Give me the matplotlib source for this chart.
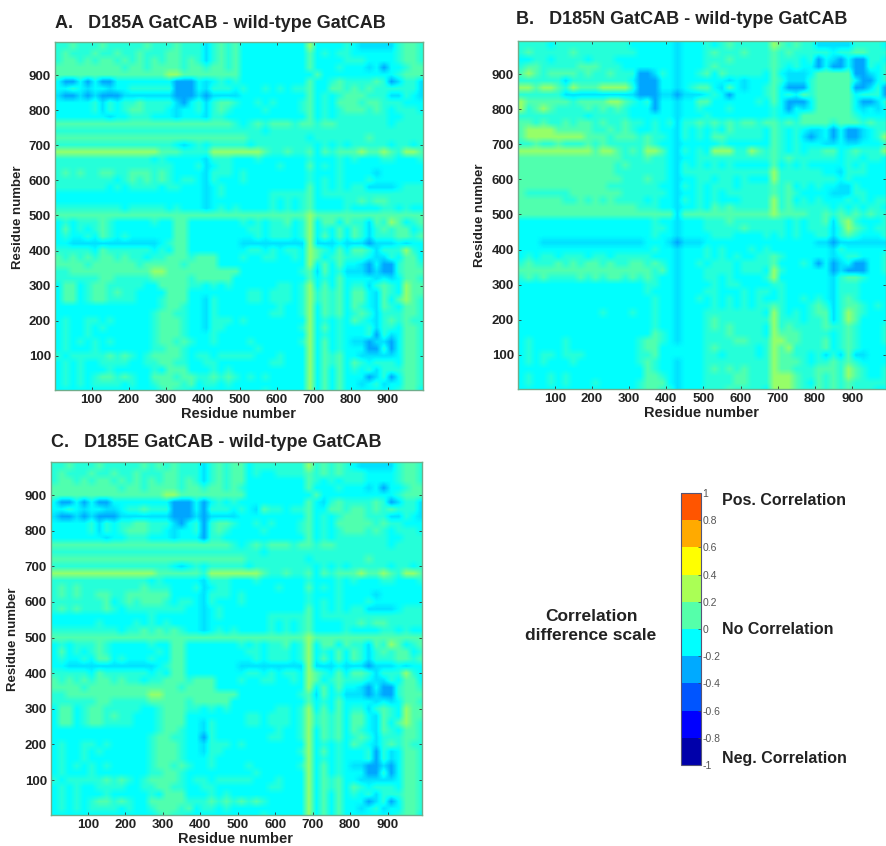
#!/usr/bin/env python3
"""Correlation difference maps for the three GatCAB mutants, read off by eye."""
import matplotlib

matplotlib.use("Agg")
import matplotlib.pyplot as plt
import numpy as np
from matplotlib.cm import ScalarMappable
from matplotlib.colors import BoundaryNorm, LinearSegmentedColormap, ListedColormap

W, H = 886, 846

# one letter per 20-residue bin, rows from residue 980 down to 0, columns from 10 up
LEVELS = {".": -0.1, ":": -0.01, "g": 0.09, "y": 0.25, "b": -0.17, "B": -0.31}

MAP_A = [
    "::g:::g::: ::g:::g::: b:g:g..... ....y....: .bbbbb:gg:",
    ":g:::g::g: :g:::gg::: b:g:g..... ....g.:.:: ......:gg:",
    ":gg:g:gg:g :g:g:gg:g: b:g:g..... ....g....: ::....:gg:",
    "ggggggggg: gg:gggg:gg :gg:g..... ....g...:. ..b.B..:gg",
    "gggggggggg gggggyyggg ggggg..... .....g.... ......:ggg",
    ".BB.B.BB.. ......BBB. b.:.:..... ....g..:g: :::g:Bb::b",
    "..:.b..b.. ::::::BBB. b:::.:..:. :.::g..gg: g:g::::::b",
    "bBBbBbBBBb bbbbbbBBBb Bbbbb..... ....g.:.:g gg:::bb:.b",
    ".....:b:.: :g::::bB.: b:gg:..:.: ...:g.:.gg g:gg:::...",
    ".....:b:.: gg:::.b..: b:g:....:. ...:g.:.:g gg:g:.:::.",
    ".......b.. :::...b... b::....... ....g.:.:: :::::..:::",
    "gggggggggg gggggggggg gggg:.:g:g gg:gg:gg:: :::::.::::",
    ":::::::::: :::::::::: ::::::::.: :::::::::: ::::::::::",
    "gggggggggg gggggggggg gggggg:::: ::::.::::: ::g:::::::",
    ":::::::::: ::::::.b.: .:::::.::: :::::.:.:. :::::.::.:",
    "yyyyyyyyyy yyyyggg::: :yyyyyyyg: :g::g.g:gg gyggyg:yyg",
    ":::::::::: :::.:..... b:::...:.. ....:...:. :...::...:",
    ":::::::::: ::::::...: b.::...... :...g.:.:. ..........",
    ":g:g::gg:: ggg:g:.... b:::.:.... ....:...:. ...b......",
    "::::::::.: g:g:g:.::. b:...:.... ....:.:.:. ..:.......",
    ":::::::.:. ::::.::... b.:....... ....g.:.:. ::bbbb.:::",
    ".......... .......... b.:......: ::::g.:::: ::::::::::",
    ".......... .......... b........: .:.:g....: :g:gg:::::",
    ":::::::::. :::::.:... b.:.:....: .:.:g....: ....::.:..",
    "gggggggggg gggggggggg gggggggggg ggggyggggg gggggggggg",
    ".:.:::g:.. ...:..gg.. .....:.:.: :g.:y.gg.g ::bg:yg.:g",
    ".g.:.:g:.. ......gg.. ......::.: ::.:y.:.g. g:b:g:gg.:",
    ".:..:.g:.: ......gg.. .......:.: ::.:y.g.g. g:b:::gg:g",
    "..bbbbbbbb bbbb.:gg.. .....bbbbb bbbbybbb.b bbBbbb.b..",
    ":::::.g::: :::.:.gg.. ......::.: .::.yg:.g. gg:b:::y:.",
    "g:g:g:gg:g ::.::ggg:g gg...:..:: ..:.yg.:g: ::.bb:.gg.",
    "gggg:ggggg g:ggggg:gg gg........ ....y.g.g. .bB.BB:gg:",
    "::gggggggg gggyyggggg ggggg..... ...:gbg.:b bbBbBB:ggg",
    "::::::gg:: :::ggggg:g gggg...... ....g.:.g. ...b.b.gg:",
    ".gg.:gg::: ::..gggg:: .:.:...... ::.:y.g.g. ::b:g:.ygg",
    ".gg.:gg:g: :....ggg.. ......::.: ::.:y:g:g. gg.bg:.ygg",
    ".gg.:gg::: :...:ggg.. b:....::.: ::.:y:g:g. gg.bg.gyg:",
    ".......... ....:gg:.. b:........ :..:y.g:g. g:.bg:.gg:",
    ".......... ...:gg::.. b:.......: :..:y.g:g. :g:b:::gg:",
    ".:..::.:.. ...:ggg:.. b:::.:.... ....y.:.:. g:.b:g:g::",
    ".:..:.:... ...:ggg:.. b::....... ...:y.g.:. ..:b::.gg:",
    ".:..:..... ...:ggg:.. .:........ ....y.:.:. ..:B:b.gg:",
    ".:.:.:.:.. ...:gg:g:. .:....:... ...:y.g.:. bbBbbB.gg:",
    ".:...:.... ...::gg:.. .......:.. ....y.g.:. ..BB:B.gg:",
    ":.:::::g:g :.:gggg:.: :.:::::... :...y.g:g. .bbbbb.gg:",
    ".:.:..:::: ..::gg::.. ::.......: :...y.g:g. g:.:::.gg:",
    ".:.:...:.. ...:.ggg.. .:.:...... ....y.g.g. :.:b:::gg:",
    ".:.:.:gg:g :..ggg:gg: :g:g:.:.:. ....y.g.g. ..Bb:B.gg:",
    ".:.:.::::. :..:ggg:g. ::.:...... ....y.g.g. .b.:b..gg:",
    ".......... ....:g::.. ........:. ....y.g.g. ......:gg.",
]

MAP_B = [
    "::::.::::: :::::..... .b...:.:g: ::::yg:g:: bbbbb::::.",
    ":g:::::g:: ::::::.... .b...:g::: g:::g:g::: ::.::gg:::",
    "..::.::::. :::....... .b...:::g: ::::g:::.: B.bB.BB::.",
    ":gg:::::gg g:::...... .b...:g::: ::::g:.:.. B.BB.BB:.:",
    "gyg:gggg:g ::g:::BBb: .b..:g.g:: :::.g.bbb. gggggBBb.:",
    "::::::b::: :::::.BBB. .b......b. b...g:bbb: ggggg.BB.:",
    "yygyyg:ygg gyyyy:BBB. .b.:gg.bg. b..:g.BBB: gggggBBb:B",
    "::::::bbbb bbbbbbBBBb bBbbb.:.B. ...:g.:.g: ggggg.:::B",
    "ygggggg:gg ggyyg:.:B. .b..gg.... ..:.g.BBB. ggggg.BBb:",
    "y:gyg::::g :g:g:...B. .b..:...:. ....:.B.b. ggggg.b.b.",
    ":::::::::. :::::..... .b...:.... ....:...gg ggggg:....",
    "gg:g::g:gg :g::g::.:. :b::g:g:g: gg:gg:g:gg gg:ggg:g::",
    "gyyyyggggg ::g:g:..:. .b:.:.:.g: :::.g:.:.b b.B.BBb.::",
    "gyyyyyyyyg gg:ggg:g:: .b:.:.gg:: :::.g:.:bB b.B.BBb.:y",
    "::g::g:::g :g:::::g:. .b.....:.. ....g:.:.. .bb.bb...:",
    "yyyyyyyyyy gyyg:g:yyg .b:.:.yyy: :yg:g:.:.: :gg.:g:::y",
    "gggggggggg gggg:::g:: .b..:::::: ::::g:g::: :::.::.::.",
    "gggggggggg ggg:g::::: .b:.:.:.:. ....g.:.:. ....:.:...",
    "gggggggggg ggg::::::: .b:::::::: ::::y::::: :..b:::...",
    "gggggggggg gggg:::g:: .b..::.::. :...y::::: :::.:.....",
    "gggggggggg gg:::::::. .b:.:.:::. ::::g:g.:. :..bb:....",
    "g::::::ggg gggg:::::: .b..:.:.:: ::::g:g:.. ..bbb::...",
    "gggggg::g: g:g::::.:. .b:.:.:... ::::y:g.:. :...:.:.::",
    "gggggggggg gggggg:::. .b..:.g:g: ::::y:g::: ::.:.:.::.",
    "gggggggggg gggggggggg gbgggggggg ggggygggg: :g:g:g:g::",
    ".......... ........:. .b...:::g: ::::::.:.: :gbgy:...:",
    ".......... ........:: .b...::::: g:::::.:.: ::b:yg:.::",
    ".......... ........:. .b....:::. ...:.:.:.. ::b:g:...:",
    "...bbbbbbb bbbbbbb... bBbbb..... .......... bbBbbbbbbb",
    ".......... ........:. .b...:.:.. .:.:...... ..b:......",
    ".:.::.:::. ::.:::::.. .b...:.:.: ..::g:.... ..b.::...:",
    ":g:::g:g:g g:g::gg:g: .b..:.:::. ::::g...:. B.Bb.BB..:",
    "gggggggggg gggggggg:g .b...::::. :::.y:.... ..BbBBB..:",
    ":g:g::::g: g:gg:g:g:. .b...::.:. ...:y..... ..b:gg:...",
    ".......... .......::. .b....:.:: ....::.... ..b:::....",
    ".......... .......:.. .b...::... :.::.:.... ..b:::....",
    ".......... ........:. .b..:.:.:. :.:..:..:. :.b:g:....",
    ".......... ........:. .b....:.:. :.::g:...: g:b:gg:.:.",
    ".......... .:...:..:. .b...::::: :::.y:.:.: ggb:yg:...",
    ".......... ........:. .b...:g::: ::::y:::.: :gb:yg....",
    ".......... ........:. .b...:g:g: :::.y:g::: :g::g:...:",
    ".......... ........g: .b...:::g: :::.yggg:: ::.:g:...:",
    ".:....:... ......:gg: .b...::::g g:::yygg:: :g.:g:...:",
    ".:....:... ......:gg. .....:g::: ::.:ygy::: :g.:g:....",
    ".:.::.:::. ......::g. .....::.:: ::.:ygg::. :b:bgbb...",
    ".:.:...:.. ......:g:. .b...::::: ::::yggg:. ::g:g:....",
    ".......... .......g:. .b...:g:g: g:::ygg::: ggg:yg:..:",
    ".:..:.:... .......gg: .b...::::g g:::yyyg:: g:g:yg:..:",
    ".:..:.:... :.....:ggg .b...::::g g:::yyyg:. g:g:g:::::",
    ".......... ......:gg: :b...:::g: :::.yyyg:: g:g:g:::..",
]

MAP_C = [
    "::g:::g::: ::g:g:g::: b:g:gg.::: ::::y:g:g: .bbbbb:gg:",
    ":g:::g::g: :g:::gg::: b:g:gg.:.. ::::g:g:g: ::....:gg:",
    ":gg:g:gg:g :g:g:gg:g: b:g:gg.... ....g:.:.: ::....:gg:",
    "ggggggggg: gg:gggg:gg :gg:g:.... ....g...:. ..b.B..:gg",
    "gggggggggg gggggyyggg gggggg.... .....g.... ......:ggg",
    ".BB.B.BB.. ......BBB. B.:.:..... ....g.b:g: :::g:Bb::b",
    "..:.b..bb. ::g:::BBB. B:::.:.bg: :.::g..gg: gg:g:g:::b",
    "bBBbBbBBBb bbbbbbBBBb Bbbbb..... ....g.:.:g gg:::bb:.b",
    ".....:b:.: :gg:::bB.: B:gg:..:.: ...:g.:.gg ggg:g::...",
    ".....:b:.: ggg::.b..: B:g:....:. ...:g.:.:g gg:g:.:::.",
    ".......b.. :::...b... B::....... ....g.:.:: :::::..:::",
    "gggggggggg gggggggggg gggg:.:g:g gg:gg:gg:: :::::.::::",
    ":::::::::: :::::::::: ::::::::.: :::::::::: ::::::::::",
    "gggggggggg gggggggggg gggggg:::: ::::.::::: ::g:::::::",
    ":::::::::: ::::::.b.: .:::::.::: :::::.:.:. :::::.::.:",
    "yyyyyyyyyy yyyygggggg :yyyyyyyg: :g::g.g:gg gyggyg:yyg",
    ":::::::::: :::.:..... b:::...:.. ....:...:. :...::...:",
    ":g:g:::::: ::g:::...: b.::...... :...g.:.:. ..........",
    ":g:g::gg:: gggggg.... b:::.:.... ....:...:. ...b......",
    ":::::::g.: g:ggg:.::. b:...:.... ....:.:.:. ..:.......",
    ":g:g:::g:. ::::::::.. b.:....... ....g.:.:. ::bbbb.:::",
    ".......... ...:...... b.:......: ::::g.:::: ::::::::::",
    "......:... .:.:.:.... b........: .:.:g....: :g:gg:::::",
    ":::::::::. ::g:g:g:.. b.:.:....: .:.:g....: ....::.:..",
    "gggggggggg gggggggggg gggggggggg ggggyggggg gggggggggg",
    ".:.:::g:.. ...:..gg.. .....:.:.: :g.:y.gg.g ::bg:yg.:g",
    ".g.:.:g:.. ....:.gg.. ......::.: ::.:y.:.g. g:b:g:gg.:",
    ".:..:.gg.: ...:..gg.. .......:.: ::.:y.g.g. g:b:::gg:g",
    "..bbbbbbbb bbbb.:gg.. .....bbbbb bbbbybbb.b bbBbbb.b..",
    ":::::.g::: :::.:.gg.. ......::.: .::.yg:.g. gg:b:::y:.",
    "g:g:g:gg:g ::.::ggg:g gg...:..:: ..:.yg.:g: ::.bb:.gg.",
    "gggg:ggggg ggggggg:gg gg........ ....y.g.g. .bB.BB:gg:",
    "::gggggggg gggyyggggg ggggg..... ...:gbg.:b bbBbBB:ggg",
    "::::::gg:: :::ggggg:g gggg...... ....g.:.g. ...b.b.gg:",
    ".gg.:gg::: ::..:ggg:: .:.:...... ::.:y.g.g. ::b:g:.ygg",
    ".gg.:gg:g: :...:ggg.. ......::.: ::.:y:g:g. gg.bg:.ygg",
    ".gg.:gg::: :...:ggg.. b:....::.: ::.:y:g:g. gg.bg.gyg:",
    ".......... ....:gg:.. b:........ :..:y.g:g. g:.bg:.gg:",
    ".......... ...:gg::.. B:.......: :..:y.g:g. :g:b:::gg:",
    ".:..::.:.. ...:ggg:.. b:::.:.... ....y.:.:. g:.b:g:g::",
    ".:..:.:... ...:ggg:.. b::....... ...:y.g.:. ..:B:b.gg:",
    ".:..:..... ...:ggg:.. .:........ ....y.:.:. ..:B:b.gg:",
    ".:.:.:.:.. ...:gg:g:. .:....:... ...:y.g.:. bbBBbB.gg:",
    ".:...:.... ...::gg:.. .......:.. ....y.g.:. ..BB:B.gg:",
    ":.:::::g:g :.:gggg:.: :.:::::... :...y.g:g. .bbbbb.gg:",
    ".:.:..:::: ..::gg::.. ::.......: :...y.g:g. g:.:::.gg:",
    ".:.:...:.. ...:.ggg.. .:.:...... ....y.g.g. :.:b:::gg:",
    ".:.:.:gg:g :..ggggg:: :g:g:g:g:. ....y.g.g. ..Bb:B.gg:",
    ".:.:.::::. :..:ggg:g. ::.:...... ....y.g.g. .b.:b..gg:",
    ".......... ....:g::.. ........:. ....y.g.g. ......:gg.",
]

TICKS = [100, 200, 300, 400, 500, 600, 700, 800, 900]
SCALE_TICKS = [-1, -0.8, -0.6, -0.4, -0.2, 0, 0.2, 0.4, 0.6, 0.8, 1]
SCALE_LABELS = ["-1", "-0.8", "-0.6", "-0.4", "-0.2", "0", "0.2", "0.4", "0.6", "0.8", "1"]
SCALE_COLORS = [
    "#0000aa", "#0000ff", "#0055ff", "#00aaff", "#00ffff",
    "#55ffaa", "#aaff55", "#ffff00", "#ffaa00", "#ff5500",
]

INK = "#222222"
FONT = "Liberation Sans"


def decode(rows):
    cells = [r.replace(" ", "").ljust(50, ".")[:50] for r in rows]
    return np.array([[LEVELS[c] for c in r] for r in cells])


def box(x0, y0, x1, y1):
    return [x0 / W, 1 - y1 / H, (x1 - x0) / W, (y1 - y0) / H]


def label(fig, x, y, s, size=10, **kw):
    kw.setdefault("ha", "center")
    kw.setdefault("va", "center")
    fig.text(x / W, 1 - y / H, s, fontsize=size, fontweight="bold",
             family=FONT, color=INK, **kw)


def panel(fig, rows, pos, xlim, ylim, cmap):
    ax = fig.add_axes(box(*pos))
    ax.imshow(decode(rows), cmap=cmap, vmin=-1, vmax=1, aspect="auto",
              extent=(0, 1000, -10, 990), interpolation="bilinear")
    ax.set_xlim(*xlim)
    ax.set_ylim(*ylim)
    ax.set_xticks(TICKS)
    ax.set_yticks(TICKS)
    ax.tick_params(direction="in", length=2, width=0.6, color="#333333",
                   top=True, right=True, pad=3, labelsize=9.5, labelcolor=INK)
    for t in ax.get_xticklabels() + ax.get_yticklabels():
        t.set_fontweight("bold")
        t.set_family(FONT)
    for s in ax.spines.values():
        s.set_color("#6fae8c")
        s.set_linewidth(1.0)
    return ax


def main():
    fig = plt.figure(figsize=(W / 100, H / 100), dpi=100)

    smooth = LinearSegmentedColormap.from_list(
        "smooth",
        [(0.0, SCALE_COLORS[0])]
        + [((i + 0.5) / 10, c) for i, c in enumerate(SCALE_COLORS)]
        + [(1.0, SCALE_COLORS[-1])],
    )

    panel(fig, MAP_A, (55, 42, 423, 390), (1, 995), (3, 994), smooth)
    panel(fig, MAP_B, (518, 41, 886, 389), (1, 991), (3, 994), smooth)
    panel(fig, MAP_C, (51, 462, 422, 815), (1, 992), (2, 993), smooth)

    label(fig, 55, 24, "A.   D185A GatCAB - wild-type GatCAB", 13, ha="left")
    label(fig, 516, 20, "B.   D185N GatCAB - wild-type GatCAB", 13, ha="left")
    label(fig, 51, 442, "C.   D185E GatCAB - wild-type GatCAB", 13, ha="left")

    label(fig, 239, 414, "Residue number", 10.5)
    label(fig, 702, 413, "Residue number", 10.5)
    label(fig, 236, 839, "Residue number", 10.5)
    label(fig, 18, 217, "Residue number", 9.5, rotation=90)
    label(fig, 480, 215, "Residue number", 9.5, rotation=90)
    label(fig, 13, 639, "Residue number", 9.5, rotation=90)

    cax = fig.add_axes(box(681, 493, 701, 765))
    bounds = np.array(SCALE_TICKS, dtype=float)
    sm = ScalarMappable(norm=BoundaryNorm(bounds, 10), cmap=ListedColormap(SCALE_COLORS))
    cb = fig.colorbar(sm, cax=cax, ticks=SCALE_TICKS)
    cb.ax.set_yticklabels(SCALE_LABELS)
    cb.ax.tick_params(length=2, width=0.5, color="#444444", direction="in", pad=1,
                      labelsize=7.5, labelcolor="#555555")
    for t in cb.ax.get_yticklabels():
        t.set_family(FONT)
    cb.outline.set_edgecolor("#555577")
    cb.outline.set_linewidth(0.8)

    label(fig, 591, 616, "Correlation", 12.5)
    label(fig, 591, 636, "difference scale", 12.5)
    label(fig, 722, 500, "Pos. Correlation", 11.5, ha="left")
    label(fig, 722, 629, "No Correlation", 11.5, ha="left")
    label(fig, 722, 758, "Neg. Correlation", 11.5, ha="left")

    fig.savefig("out.png", dpi=100)


if __name__ == "__main__":
    main()
